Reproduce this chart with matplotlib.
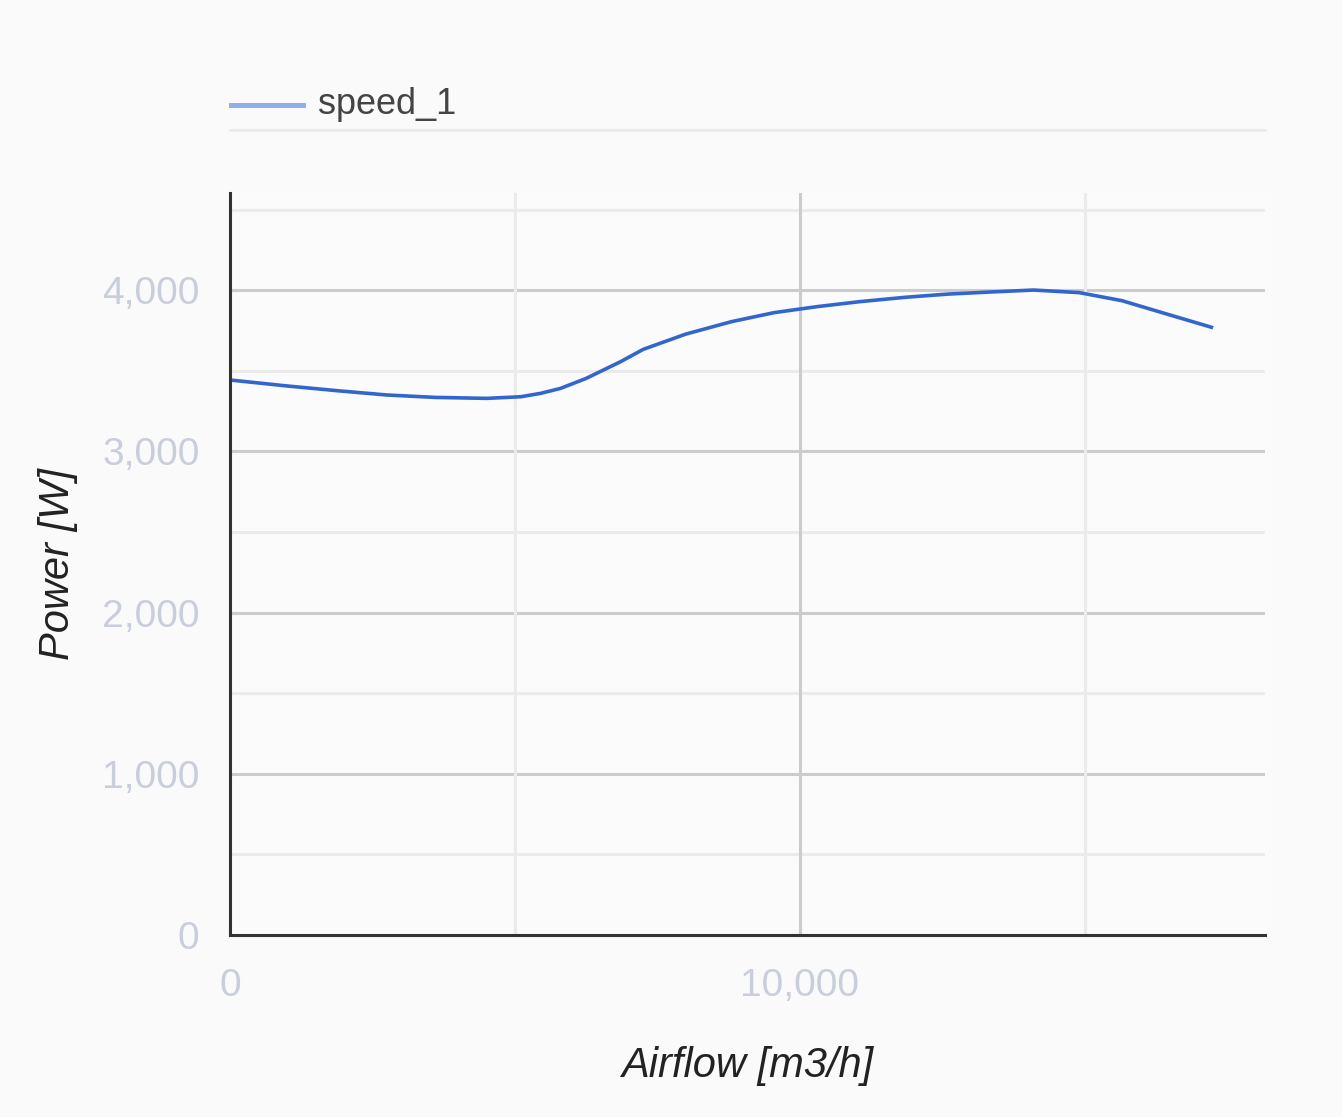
import matplotlib
matplotlib.use("Agg")
import matplotlib.pyplot as plt
from matplotlib.lines import Line2D
from matplotlib.ticker import FuncFormatter

plt.rcParams['font.family'] = ['Liberation Sans', 'DejaVu Sans']

# Data
airflow = [0, 1000, 1900, 2750, 3600, 4500, 5100, 5450, 5800, 6250, 6850,
           7250, 8000, 8800, 9550, 10300, 11050, 11850, 12600, 13350, 14100,
           14900, 15650, 16400, 17250]
power = [3443, 3406, 3376, 3350, 3335, 3329, 3339, 3360, 3391, 3453, 3556,
         3633, 3728, 3805, 3861, 3898, 3929, 3956, 3976, 3989, 4001,
         3985, 3935, 3856, 3767]
series_name = "speed_1"
x_title = "Airflow [m3/h]"
y_title = "Power [W]"
y_ticks = [0, 1000, 2000, 3000, 4000]
x_ticks = [0, 10000]

W, H = 1342, 1117
fig = plt.figure(figsize=(W / 100, H / 100), dpi=100, facecolor='#fafafa')
L, R, T, B = 230, 1265, 193, 935
ax = fig.add_axes([L / W, 1 - B / H, (R - L) / W, (B - T) / H])
ax.set_facecolor('#fbfbfb')

ax.set_xlim(0, 18160)
ax.set_ylim(0, 4603)

# gridlines
for yv in [500, 1500, 2500, 3500, 4500]:
    ax.axhline(yv, color='#ebebeb', lw=2.2, zorder=1)
for yv in [1000, 2000, 3000, 4000]:
    ax.axhline(yv, color='#cccccc', lw=2.2, zorder=1)
for xv in [5000, 15000]:
    ax.axvline(xv, color='#ebebeb', lw=2.2, zorder=1)
ax.axvline(10000, color='#cccccc', lw=2.2, zorder=1)

ax.plot(airflow, power, color='#3366cc', lw=2.6, zorder=3, solid_capstyle='butt')

for s in ['top', 'right']:
    ax.spines[s].set_visible(False)
for s in ['left', 'bottom']:
    ax.spines[s].set_color('#333333')
    ax.spines[s].set_linewidth(2.2)
    ax.spines[s].set_zorder(4)

ax.set_yticks(y_ticks)
ax.set_xticks(x_ticks)
fmt = FuncFormatter(lambda v, p: f"{int(v):,}")
ax.yaxis.set_major_formatter(fmt)
ax.xaxis.set_major_formatter(fmt)
ax.tick_params(axis='both', length=0, labelsize=28, labelcolor='#c9cedb')
ax.tick_params(axis='y', pad=22)
ax.tick_params(axis='x', pad=24)

ax.set_xlabel(x_title, fontsize=30, style='italic', color='#222222', labelpad=30)
ax.set_ylabel(y_title, fontsize=30, style='italic', color='#222222', labelpad=17)

# legend separator line and legend
fig.add_artist(Line2D([L / W, R / W], [1 - 130 / H, 1 - 130 / H], color='#ebebeb', lw=2.2))
fig.add_artist(Line2D([231 / W, 303 / W], [1 - 105 / H, 1 - 105 / H], color='#8fb0ea', lw=3.6))
fig.text(318 / W, 1 - 105 / H, series_name, fontsize=26, color='#444444', va='center', ha='left')

fig.savefig('out.png', dpi=100, facecolor=fig.get_facecolor())
